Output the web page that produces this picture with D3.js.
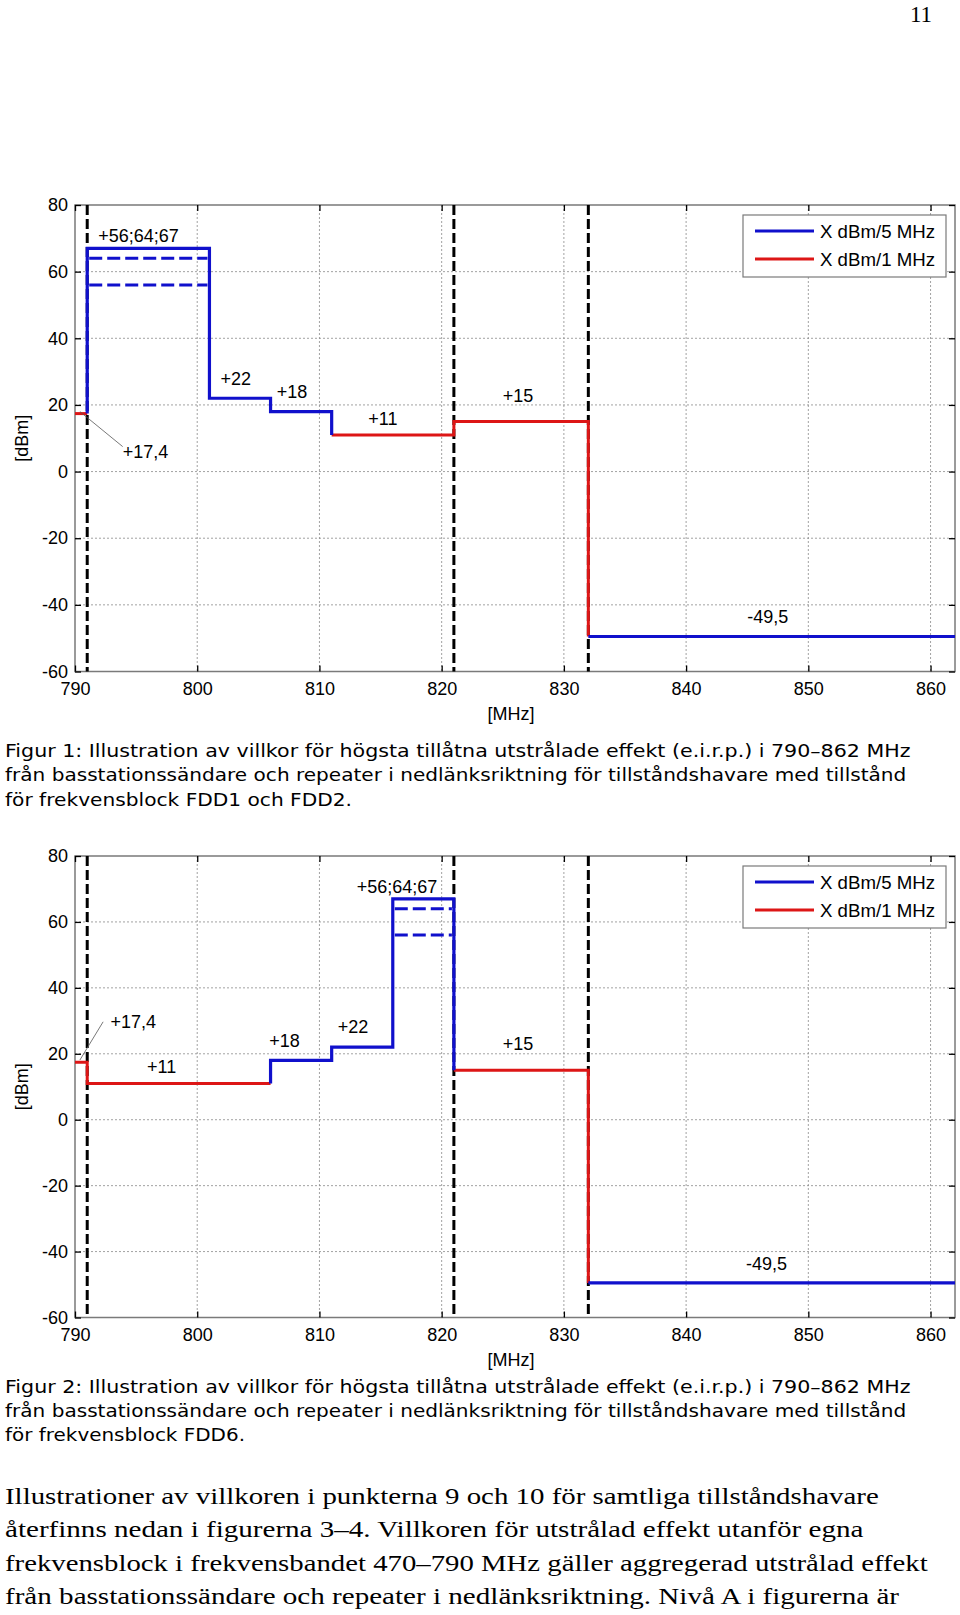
<!DOCTYPE html>
<html>
<head>
<meta charset="utf-8">
<script src="https://d3js.org/d3.v7.min.js"></script>
<style>
body { margin: 0; background: #fff; }
svg { display: block; }
</style>
</head>
<body>
<div id="page"></div>
<script>
// shared axes
var xTicks = [790, 800, 810, 820, 830, 840, 850, 860];
var yTicks = [-60, -40, -20, 0, 20, 40, 60, 80];
var xDomain = [790, 862];
var yDomain = [-60, 80];
var blockEdges = [791, 821, 832];
var legendNames = ["X dBm/5 MHz", "X dBm/1 MHz"];

// Figur 1 (FDD1 och FDD2)
var fig1Blue = [
    [[791, 17.4], [791, 67], [801, 67], [801, 22], [806, 22], [806, 18], [811, 18], [811, 11]],
    [[832, -49.5], [862, -49.5]]
];
var fig1Red = [
    [[790, 17.4], [791, 17.4]],
    [[811, 11], [821, 11], [821, 15], [832, 15], [832, -49.5]]
];
var fig1Dashed = [[791, 801, 64], [791, 801, 56]];
var fig1Labels = [
    ["+56;64;67", 791.9, 69],
    ["+22", 801.9, 26],
    ["+18", 806.5, 22.1],
    ["+11", 814, 14],
    ["+17,4", 793.9, 4.2],
    ["+15", 825, 21],
    ["-49,5", 845, -45.3]
];
var fig1Pointer = [[790.4, 18], [793.9, 7.5]];

// Figur 2 (FDD6)
var fig2Blue = [
    [[806, 11], [806, 18], [811, 18], [811, 22], [816, 22], [816, 67], [821, 67], [821, 15]],
    [[832, -49.5], [862, -49.5]]
];
var fig2Red = [
    [[790, 17.4], [791, 17.4], [791, 11], [806, 11]],
    [[821, 15], [832, 15], [832, -49.5]]
];
var fig2Dashed = [[816, 821, 64], [816, 821, 56]];
var fig2Labels = [
    ["+56;64;67", 813.05, 68.9],
    ["+17,4", 792.9, 27.8],
    ["+11", 795.9, 14.1],
    ["+18", 805.9, 22.1],
    ["+22", 811.5, 26.2],
    ["+15", 825, 21.1],
    ["-49,5", 844.9, -45.6]
];
var fig2Pointer = [[792.3, 29.7], [790.4, 18.1]];

var caption1 = [
    "Figur 1: Illustration av villkor för högsta tillåtna utstrålade effekt (e.i.r.p.) i 790–862 MHz",
    "från basstationssändare och repeater i nedlänksriktning för tillståndshavare med tillstånd",
    "för frekvensblock FDD1 och FDD2."
];
var caption2 = [
    "Figur 2: Illustration av villkor för högsta tillåtna utstrålade effekt (e.i.r.p.) i 790–862 MHz",
    "från basstationssändare och repeater i nedlänksriktning för tillståndshavare med tillstånd",
    "för frekvensblock FDD6."
];
var bodyText = [
    "Illustrationer av villkoren i punkterna 9 och 10 för samtliga tillståndshavare",
    "återfinns nedan i figurerna 3–4. Villkoren för utstrålad effekt utanför egna",
    "frekvensblock i frekvensbandet 470–790 MHz gäller aggregerad utstrålad effekt",
    "från basstationssändare och repeater i nedlänksriktning. Nivå A i figurerna är"
];
var pageNumber = "11";

var BLUE = "#1010cc";
var RED = "#dd1616";
var FONT = "'Liberation Sans', Arial, sans-serif";

var svg = d3.select("#page").append("svg")
    .attr("width", 960)
    .attr("height", 1615);

svg.append("text")
    .attr("x", 921).attr("y", 22)
    .attr("text-anchor", "middle")
    .style("font-family", "'Liberation Serif', serif")
    .style("font-size", "23px")
    .text(pageNumber);

drawChart(205, 671.5, fig1Blue, fig1Red, fig1Dashed, fig1Labels, fig1Pointer, 215);
drawChart(856, 1317.5, fig2Blue, fig2Red, fig2Dashed, fig2Labels, fig2Pointer, 866);

drawLines(caption1, 5, 756.5, 24.5, "'DejaVu Sans', Verdana, sans-serif", 17, [905.5, 901.3, 347]);
drawLines(caption2, 5, 1393, 24, "'DejaVu Sans', Verdana, sans-serif", 17, [905.5, 901.3, 240]);
drawLines(bodyText, 5, 1504, 33.3, "'Liberation Serif', 'Times New Roman', serif", 23.5, [873.7, 858.4, 922.7, 894]);

function drawChart(top, bottom, blueData, redData, dashedData, labels, pointer, legendTop) {
    var left = 75, right = 955;
    var x = d3.scaleLinear().domain(xDomain).range([left, right]);
    var y = d3.scaleLinear().domain(yDomain).range([bottom, top]);
    var g = svg.append("g");
    var plain = function (d) { return String(d); };

    // grid
    g.selectAll(".vgrid").data(xTicks.filter(function (d) { return d > 790; }))
        .enter().append("line")
        .attr("x1", function (d) { return x(d); }).attr("x2", function (d) { return x(d); })
        .attr("y1", top).attr("y2", bottom)
        .attr("stroke", "#8a8a8a").attr("stroke-width", 0.8)
        .attr("stroke-dasharray", "2,2");
    g.selectAll(".hgrid").data(yTicks.filter(function (d) { return d > -60 && d < 80; }))
        .enter().append("line")
        .attr("x1", left).attr("x2", right)
        .attr("y1", function (d) { return y(d); }).attr("y2", function (d) { return y(d); })
        .attr("stroke", "#8a8a8a").attr("stroke-width", 0.8)
        .attr("stroke-dasharray", "2,2");

    // frame
    g.append("rect")
        .attr("x", left).attr("y", top)
        .attr("width", right - left).attr("height", bottom - top)
        .attr("fill", "none").attr("stroke", "#7a7a7a").attr("stroke-width", 1.5);

    // axes: labels + inward ticks
    var xAxis = d3.axisBottom(x).tickValues(xTicks).tickFormat(plain).tickSizeInner(-6).tickSizeOuter(0).tickPadding(11);
    var xAxisTop = d3.axisTop(x).tickValues(xTicks).tickSizeInner(-6).tickSizeOuter(0).tickFormat("");
    var yAxis = d3.axisLeft(y).tickValues(yTicks).tickFormat(plain).tickSizeInner(-6).tickSizeOuter(0).tickPadding(7);
    var yAxisRight = d3.axisRight(y).tickValues(yTicks).tickSizeInner(-6).tickSizeOuter(0).tickFormat("");

    var ax = [
        g.append("g").attr("transform", "translate(0," + bottom + ")").call(xAxis),
        g.append("g").attr("transform", "translate(0," + top + ")").call(xAxisTop),
        g.append("g").attr("transform", "translate(" + left + ",0)").call(yAxis),
        g.append("g").attr("transform", "translate(" + right + ",0)").call(yAxisRight)
    ];
    ax.forEach(function (a) {
        a.select(".domain").remove();
        a.selectAll(".tick line").attr("stroke", "#000").attr("stroke-width", 1.3);
        a.selectAll("text").style("font-family", FONT).style("font-size", "18px").attr("fill", "#000");
    });

    g.append("text")
        .attr("transform", "translate(28," + ((top + bottom) / 2) + ") rotate(-90)")
        .attr("text-anchor", "middle")
        .style("font-family", FONT).style("font-size", "18px")
        .text("[dBm]");
    g.append("text")
        .attr("x", (left + right) / 2 - 4).attr("y", bottom + 48)
        .attr("text-anchor", "middle")
        .style("font-family", FONT).style("font-size", "18px")
        .text("[MHz]");

    // block edges
    g.selectAll(".edge").data(blockEdges).enter().append("line")
        .attr("x1", function (d) { return x(d); }).attr("x2", function (d) { return x(d); })
        .attr("y1", top).attr("y2", bottom)
        .attr("stroke", "#000").attr("stroke-width", 3)
        .attr("stroke-dasharray", "10,4");

    var line = d3.line()
        .x(function (d) { return x(d[0]); })
        .y(function (d) { return y(d[1]); });

    g.selectAll(".red").data(redData).enter().append("path")
        .attr("d", line).attr("fill", "none")
        .attr("stroke", RED).attr("stroke-width", 3);
    g.selectAll(".blue").data(blueData).enter().append("path")
        .attr("d", line).attr("fill", "none")
        .attr("stroke", BLUE).attr("stroke-width", 3.2);
    g.selectAll(".bdash").data(dashedData).enter().append("line")
        .attr("x1", function (d) { return x(d[0]) + 2; }).attr("x2", function (d) { return x(d[1]) - 2; })
        .attr("y1", function (d) { return y(d[2]); }).attr("y2", function (d) { return y(d[2]); })
        .attr("stroke", BLUE).attr("stroke-width", 3)
        .attr("stroke-dasharray", "13,5");

    g.append("line")
        .attr("x1", x(pointer[0][0])).attr("y1", y(pointer[0][1]))
        .attr("x2", x(pointer[1][0])).attr("y2", y(pointer[1][1]))
        .attr("stroke", "#555").attr("stroke-width", 0.8);

    g.selectAll(".lab").data(labels).enter().append("text")
        .attr("x", function (d) { return x(d[1]); })
        .attr("y", function (d) { return y(d[2]); })
        .style("font-family", FONT).style("font-size", "18px")
        .text(function (d) { return d[0]; });

    // legend
    var lg = g.append("g").attr("transform", "translate(743," + legendTop + ")");
    lg.append("rect")
        .attr("width", 203).attr("height", 62)
        .attr("fill", "#fff").attr("stroke", "#7a7a7a").attr("stroke-width", 1.2);
    [BLUE, RED].forEach(function (c, i) {
        lg.append("line")
            .attr("x1", 12).attr("x2", 71)
            .attr("y1", 16 + i * 28).attr("y2", 16 + i * 28)
            .attr("stroke", c).attr("stroke-width", 3);
        lg.append("text")
            .attr("x", 77).attr("y", 16 + i * 28 + 7)
            .attr("textLength", 115).attr("lengthAdjust", "spacingAndGlyphs")
            .style("font-family", FONT).style("font-size", "18px")
            .text(legendNames[i]);
    });
}

function drawLines(lines, x0, y0, step, family, size, widths) {
    svg.append("g").selectAll("text").data(lines).enter().append("text")
        .attr("x", x0)
        .attr("y", function (d, i) { return y0 + i * step; })
        .attr("textLength", function (d, i) { return widths[i]; })
        .attr("lengthAdjust", "spacingAndGlyphs")
        .style("font-family", family)
        .style("font-size", size + "px")
        .text(function (d) { return d; });
}
</script>
</body>
</html>
